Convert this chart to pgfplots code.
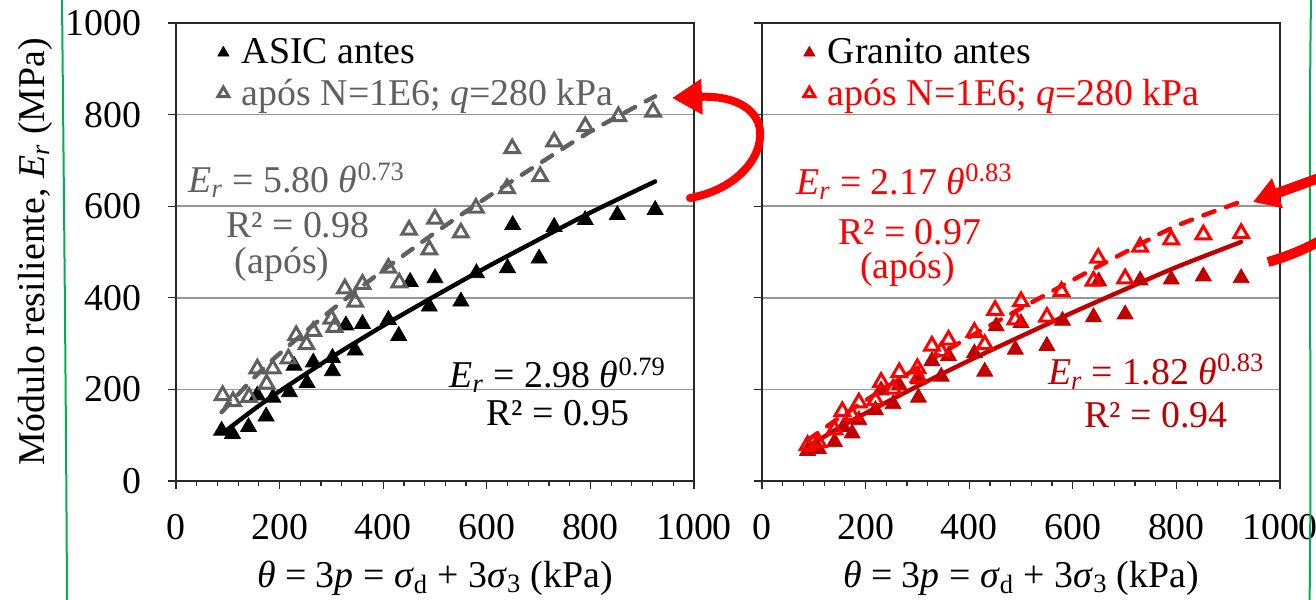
\documentclass[border=0pt]{standalone}
\usepackage{fontspec}
\setmainfont{Liberation Serif}
\usepackage{pgfplots}
\pgfplotsset{compat=1.18}
\usetikzlibrary{arrows.meta}
\definecolor{aposgray}{RGB}{96,96,96}
\definecolor{textgray}{RGB}{96,96,96}
\definecolor{darkred}{RGB}{192,0,0}
\definecolor{gridgray}{RGB}{150,150,150}
\definecolor{axisgray}{RGB}{40,40,40}
\definecolor{greenline}{RGB}{0,176,80}
\newcommand\fsz{\fontsize{19}{22}\selectfont}
\pgfplotsset{legend image code/.code={\draw[mark repeat=2,mark phase=2,#1,mark size=3.2bp] plot coordinates {(0cm,0cm) (0.15cm,0cm) (0.4cm,0cm)};}}
\pgfplotsset{
  common/.style={
    scale only axis, width=259bp, height=229bp,
    xmin=0,xmax=1000,ymin=0,ymax=1000,
    xtick={0,200,...,1000}, ytick={0,200,...,1000},
    minor x tick num=4,
    tick align=outside, xtick pos=bottom, ytick pos=left,
    major tick length=4bp, minor tick length=2.5bp,
    ymajorgrids, grid style={gridgray, line width=0.8bp},
    axis line style={axisgray, line width=1bp},
    tick style={axisgray, line width=0.6bp},
    tick label style={font=\fsz},
    /pgf/number format/assume math mode=true,
    /pgf/number format/set thousands separator={},
    yticklabel style={xshift=-10bp},
    xticklabel style={yshift=-9bp},
    label style={font=\fsz},
    xlabel={\textit{θ} = 3\textit{p} = \textit{σ}\textsubscript{d} + 3\textit{σ}\textsubscript{3} (kPa)},
    xlabel style={at={(axis description cs:0.5,-0.212)}, anchor=center},
    legend style={draw=none, fill=none, font=\fsz, at={(axis description cs:0.08,0.975)}, anchor=north west, inner sep=0pt, row sep=2bp},
    legend cell align=left,
    antes/.style={only marks, mark=triangle*, mark size=4.6bp},
    apos/.style={only marks, mark=triangle, mark size=4.2bp},
  }
}
\begin{document}
\begin{tikzpicture}
\begin{axis}[common, at={(88bp,59.5bp)}, anchor=south west,
  ylabel={Módulo resiliente, \textit{E\textsubscript{r}} (MPa)},
  ylabel style={at={(axis description cs:-0.272,0.5)}, anchor=center, rotate=0}]
\addplot[antes, mark options={fill=black, draw=black}] coordinates {
(88,110) (109,103) (140,118) (157,187) (174,141) (187,182) (219,194) (228,252) (253,214) (265,259) (302,240) (302,269) (328,340) (346,285) (360,343) (410,352) (430,317) (452,435) (489,381) (500,443) (550,392) (580,454) (640,465) (650,559) (701,486) (730,555) (790,570) (852,581) (925,592)};
\addlegendentry{\hspace{4.5bp}ASIC antes}
\addplot[apos, mark options={draw=aposgray, line width=1.5bp}] coordinates {
(90,187) (110,174) (141,183) (157,245) (175,212) (187,245) (217,267) (232,318) (252,298) (265,327) (300,354) (306,336) (326,420) (346,391) (360,430) (410,465) (431,433) (450,548) (489,505) (500,572) (550,542) (579,596) (639,639) (649,726) (703,665) (730,741) (790,774) (854,796) (921,806)};
\addlegendentry{\hspace{4.5bp}\textcolor{aposgray}{após N=1E6; \textit{q}=280 kPa}}
\addplot[forget plot, black, line width=2.2bp, smooth, line cap=round] coordinates {
(92,106) (150,156) (200,196) (300,270) (400,339) (500,404) (600,467) (700,527) (800,586) (925,654)};
\addplot[forget plot, aposgray, line width=2.2bp, smooth, line cap=round, dash pattern=on 6bp off 6bp] coordinates {
(88,150) (150,225) (200,278) (300,373) (400,460) (500,542) (600,619) (700,692) (800,763) (925,840)};
\node[text=textgray, font=\fsz] at (axis cs:233,657) {\textit{E\textsubscript{r}} = 5.80 \textit{θ}\textsuperscript{0.73}};
\node[text=textgray, font=\fsz] at (axis cs:235,559) {R² = 0.98};
\node[text=textgray, font=\fsz] at (axis cs:205,472) {(após)};
\node[text=black, font=\fsz] at (axis cs:737,231) {\textit{E\textsubscript{r}} = 2.98 \textit{θ}\textsuperscript{0.79}};
\node[text=black, font=\fsz] at (axis cs:737,148) {R² = 0.95};
\end{axis}
\begin{axis}[common, at={(381bp,59.5bp)}, anchor=south west, yticklabels={}]
\addplot[antes, mark options={fill=darkred, draw=darkred}] coordinates {
(88,66) (109,70) (140,85) (157,118) (174,104) (187,133) (219,155) (230,198) (253,168) (265,209) (302,182) (302,222) (328,262) (346,228) (360,273) (410,279) (430,239) (452,338) (489,287) (500,345) (550,295) (580,350) (640,358) (650,436) (701,364) (730,438) (790,440) (852,447) (925,443)};
\addlegendentry{\hspace{4.5bp}Granito antes}
\addplot[apos, mark options={draw=red, line width=1.5bp}] coordinates {
(88,78) (109,84) (140,112) (155,152) (174,143) (187,171) (219,176) (230,216) (253,201) (265,237) (300,246) (302,226) (328,295) (346,283) (360,308) (410,325) (430,298) (450,373) (489,352) (500,392) (550,358) (578,414) (640,437) (649,487) (701,442) (730,511) (790,527) (852,538) (925,541)};
\addlegendentry{\hspace{4.5bp}\textcolor{red}{após N=1E6; \textit{q}=280 kPa}}
\addplot[forget plot, darkred, line width=2.2bp, smooth, line cap=round] coordinates {
(90,76) (150,117) (200,148) (300,207) (400,263) (500,316) (600,368) (700,418) (800,467) (925,522)};
\addplot[forget plot, red, line width=2.2bp, smooth, line cap=round, dash pattern=on 6bp off 6bp] coordinates {
(88,89) (150,139) (200,176) (300,247) (400,314) (500,377) (600,439) (700,499) (800,557) (925,610)};
\node[text=red, font=\fsz] at (axis cs:275,653) {\textit{E\textsubscript{r}} = 2.17 \textit{θ}\textsuperscript{0.83}};
\node[text=red, font=\fsz] at (axis cs:285,544) {R² = 0.97};
\node[text=red, font=\fsz] at (axis cs:281,461) {(após)};
\node[text=darkred, font=\fsz] at (axis cs:761,238) {\textit{E\textsubscript{r}} = 1.82 \textit{θ}\textsuperscript{0.83}};
\node[text=darkred, font=\fsz] at (axis cs:761,144) {R² = 0.94};
\end{axis}
% hand-drawn annotations
\draw[greenline, line width=1bp] (31bp,300bp) .. controls (32bp,200bp) and (33bp,100bp) .. (33.5bp,0bp);
\draw[greenline, line width=1bp] (655.5bp,300bp) .. controls (654bp,200bp) and (656bp,100bp) .. (654.8bp,0bp);
\draw[red, line width=4bp, line cap=round, -{Triangle[length=15bp,width=17bp]}] (345bp,201bp) .. controls (372bp,206bp) and (384bp,226bp) .. (379bp,239bp) .. controls (374bp,250bp) and (360bp,252bp) .. (336bp,251bp);
\draw[red, line width=5bp, -{Triangle[length=13bp,width=15bp]}] (634bp,169bp) .. controls (690bp,185bp) and (700bp,225bp) .. (665bp,213bp) -- (626.5bp,199bp);
\pgfresetboundingbox
\useasboundingbox (0bp,0bp) rectangle (658bp,300bp);
\end{tikzpicture}
\end{document}
